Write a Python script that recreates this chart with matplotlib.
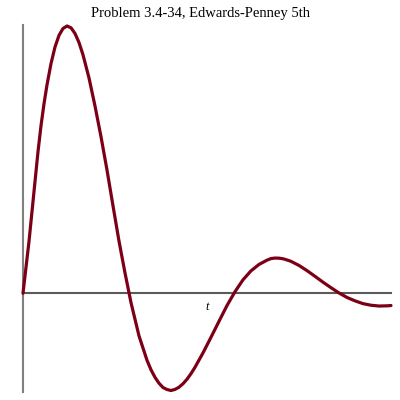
import matplotlib
matplotlib.use("Agg")
import matplotlib.pyplot as plt

# Damped oscillation
t = [0.00, 0.03, 0.06, 0.09, 0.12, 0.15, 0.18, 0.21, 0.24, 0.28, 0.32, 0.36,
     0.40, 0.44, 0.48, 0.52, 0.56, 0.60, 0.66, 0.72, 0.78, 0.84, 0.90, 0.96,
     1.02, 1.08, 1.16, 1.24, 1.28, 1.32, 1.36, 1.40, 1.44, 1.48, 1.52, 1.56,
     1.60, 1.64, 1.68, 1.72, 1.80, 1.88, 1.96, 2.04, 2.12, 2.20, 2.28, 2.36,
     2.44, 2.48, 2.52, 2.56, 2.60, 2.64, 2.68, 2.76, 2.84, 2.92, 3.00, 3.08,
     3.16, 3.24, 3.32, 3.40, 3.48, 3.56, 3.64, 3.68]
x = [0.000, 0.260, 0.520, 0.820, 1.120, 1.420, 1.680, 1.900, 2.090, 2.303,
     2.469, 2.586, 2.655, 2.680, 2.662, 2.605, 2.514, 2.391, 2.159, 1.878,
     1.570, 1.236, 0.877, 0.523, 0.204, -0.094, -0.427, -0.672, -0.767,
     -0.843, -0.902, -0.945, -0.965, -0.975, -0.964, -0.942, -0.907, -0.862,
     -0.806, -0.742, -0.598, -0.441, -0.281, -0.123, 0.016, 0.135, 0.225,
     0.289, 0.332, 0.348, 0.353, 0.352, 0.346, 0.334, 0.320, 0.279, 0.227,
     0.170, 0.111, 0.056, 0.003, -0.042, -0.076, -0.104, -0.120, -0.128,
     -0.126, -0.123]

title = "Problem 3.4-34, Edwards-Penney 5th"
xlabel = "t"

fig = plt.figure(figsize=(4, 4), dpi=100)
ax = fig.add_axes([23 / 400, 8 / 400, 368 / 400, 367 / 400])

ax.plot(t, x, color="#7c0015", linewidth=2.3, solid_capstyle="round",
        solid_joinstyle="round", clip_on=False, zorder=3)

ax.set_xlim(0, 3.68)
ax.set_ylim(-0.99, 2.69)

ax.spines["top"].set_visible(False)
ax.spines["right"].set_visible(False)
ax.spines["bottom"].set_position(("data", 0))
ax.spines["bottom"].set_color("#5a5a5a")
ax.spines["bottom"].set_linewidth(1.5)
ax.spines["left"].set_color("#808080")
ax.spines["left"].set_linewidth(1.5)
ax.set_xticks([])
ax.set_yticks([])

ax.text(1.84, -0.14, xlabel, fontsize=9, fontstyle="italic",
        family="Liberation Serif", ha="center", va="center")

fig.text(0.5025, 1 - 14 / 400, title, fontsize=10.5,
         family="Liberation Serif", ha="center", va="center")

fig.savefig("out.png", dpi=100)
